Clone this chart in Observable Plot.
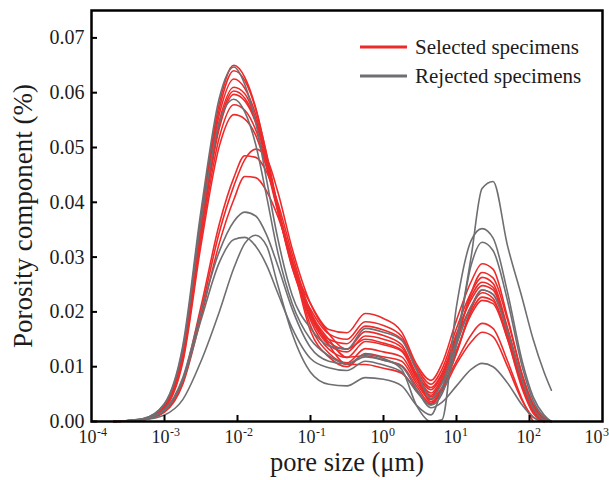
<!DOCTYPE html>
<html><head><meta charset="utf-8">
<script src="https://cdn.jsdelivr.net/npm/d3@7"></script>
<script src="https://cdn.jsdelivr.net/npm/@observablehq/plot@0.6"></script>
<style>
body{margin:0;background:#fff;}
svg text{font-family:"Liberation Serif","Times New Roman",Times,serif !important;font-variant:normal !important;font-variant-numeric:normal !important;}
</style>
</head><body><div id="chart"></div>
<script>
// log10(pore size, µm) sampling positions
const logGrid = [-3.7, -3.3, -3.0, -2.75, -2.5, -2.25, -2.05, -1.9, -1.75, -1.6, -1.45, -1.25, -1.0, -0.75, -0.5, -0.25, 0.0, 0.25, 0.45, 0.65, 0.8, 1.0, 1.2, 1.35, 1.5, 1.7, 1.9, 2.05, 2.2, 2.3];

// Selected specimens (red)
const selected1  = [0, .0004, .0030, .0130, .0375, .0580, .0650, .0628, .0572, .0485, .0390, .0280, .0205, .0160, .0150, .0182, .0175, .0155, .0100, .0068, .0095, .0170, .0235, .0263, .0252, .0170, .0075, .0025, 0, null];
const selected2  = [0, .0004, .0029, .0125, .0365, .0570, .0640, .0622, .0570, .0488, .0395, .0290, .0215, .0168, .0162, .0197, .0188, .0163, .0105, .0075, .0105, .0185, .0255, .0288, .0278, .0190, .0085, .0030, .0005, 0];
const selected3  = [0, .0004, .0028, .0122, .0360, .0560, .0625, .0608, .0560, .0482, .0392, .0285, .0195, .0150, .0142, .0174, .0167, .0150, .0095, .0062, .0088, .0160, .0222, .0248, .0240, .0165, .0075, .0028, .0005, 0];
const selected4  = [0, .0004, .0027, .0120, .0352, .0548, .0610, .0598, .0552, .0478, .0390, .0290, .0200, .0145, .0132, .0164, .0157, .0140, .0088, .0058, .0085, .0155, .0228, .0254, .0245, .0168, .0070, .0020, 0, null];
const selected5  = [0, .0003, .0026, .0118, .0348, .0540, .0603, .0590, .0548, .0475, .0388, .0282, .0190, .0140, .0127, .0156, .0150, .0135, .0085, .0052, .0080, .0150, .0210, .0235, .0225, .0150, .0060, .0015, 0, null];
const selected6  = [0, .0003, .0026, .0116, .0342, .0535, .0597, .0585, .0545, .0472, .0385, .0288, .0185, .0132, .0117, .0146, .0140, .0128, .0080, .0048, .0075, .0145, .0235, .0272, .0262, .0185, .0085, .0032, .0008, 0];
const selected7  = [0, .0003, .0025, .0112, .0332, .0518, .0578, .0568, .0532, .0468, .0390, .0295, .0175, .0125, .0107, .0133, .0127, .0118, .0075, .0045, .0070, .0130, .0195, .0221, .0215, .0150, .0065, .0020, 0, null];
const selected8  = [0, .0003, .0024, .0108, .0322, .0502, .0560, .0552, .0522, .0462, .0385, .0292, .0165, .0118, .0100, .0124, .0118, .0110, .0070, .0040, .0062, .0110, .0158, .0179, .0170, .0110, .0040, 0, null, null];
const selected9  = [0, .0003, .0018, .0070, .0200, .0345, .0430, .0478, .0497, .0480, .0420, .0315, .0215, .0160, .0132, .0150, .0143, .0130, .0082, .0036, .0060, .0125, .0205, .0240, .0232, .0162, .0070, .0022, 0, null];
const selected10 = [0, .0003, .0019, .0075, .0210, .0360, .0445, .0485, .0482, .0455, .0400, .0305, .0200, .0150, .0117, .0120, .0112, .0102, .0065, .0033, .0055, .0105, .0145, .0163, .0155, .0100, .0038, .0008, 0, null];
const selected11 = [0, .0003, .0017, .0068, .0190, .0325, .0405, .0447, .0445, .0420, .0375, .0295, .0195, .0140, .0104, .0104, .0097, .0088, .0058, .0030, .0058, .0125, .0200, .0227, .0220, .0155, .0068, .0022, .0003, 0];

// Rejected specimens (grey)
const rejected1 = [0, .0005, .0033, .0138, .0385, .0590, .0647, .0615, .0545, .0440, .0335, .0230, .0170, .0138, .0132, .0170, .0163, .0148, .0095, .0042, .0070, .0140, .0210, .0240, .0232, .0165, .0075, .0025, .0003, 0];
const rejected2 = [0, .0005, .0032, .0132, .0365, .0545, .0588, .0565, .0505, .0410, .0310, .0215, .0150, .0120, .0105, .0118, .0112, .0100, .0060, .0025, .0035, .0065, .0095, .0106, .0100, .0070, .0030, .0008, 0, null];
const rejected3 = [0, .0004, .0022, .0080, .0200, .0310, .0365, .0382, .0375, .0340, .0285, .0205, .0135, .0110, .0105, .0122, .0115, .0095, .0030, 0, .0003, .0210, .0330, .0352, .0335, .0235, .0110, .0045, .0012, 0];
const rejected4 = [0, .0004, .0020, .0075, .0185, .0290, .0332, .0336, .0320, .0285, .0235, .0170, .0115, .0098, .0093, .0110, .0103, .0090, .0055, .0030, .0050, .0140, .0285, .0327, .0312, .0220, .0100, .0038, .0008, 0];
const rejected5 = [0, .0003, .0012, .0040, .0110, .0200, .0280, .0325, .0340, .0320, .0250, .0160, .0090, .0068, .0065, .0080, .0077, .0065, .0030, .0012, .0060, .0150, .0300, .0425, .0438, .0320, .0225, .0150, .0090, .0057];

const selectedCurves = [selected1, selected2, selected3, selected4, selected5, selected6, selected7, selected8, selected9, selected10, selected11];
const rejectedCurves = [rejected1, rejected2, rejected3, rejected4, rejected5];

const yTicks = [0, 0.01, 0.02, 0.03, 0.04, 0.05, 0.06, 0.07];
const xTickExponents = [-4, -3, -2, -1, 0, 1, 2, 3];
const xInnerExponents = [-3, -2, -1, 0, 1, 2];
const legendLabels = ["Selected specimens", "Rejected specimens"];
const xTitle = "pore size (\u03bcm)";
const yTitle = "Porosity component (%)";

const RED = "#ee2b2b", GREY = "#6f6f73", INK = "#1c1c1c";
const FONT = "Liberation Serif, Times New Roman, Times, serif";

function toRows(curves, group) {
  const rows = [];
  curves.forEach((ys, k) => ys.forEach((v, i) => {
    if (v != null) rows.push({x: Math.pow(10, logGrid[i]), y: v, id: group + k});
  }));
  return rows;
}
const selRows = toRows(selectedCurves, "s");
const rejRows = toRows(rejectedCurves, "r");
const xInnerValues = xInnerExponents.map(e => Math.pow(10, e));
const mainExp = xTickExponents.filter(e => e < 3);
const lastExp = xTickExponents.filter(e => e >= 3);

const common = {fontFamily: FONT, fontVariant: "normal", fill: INK};

const chart = Plot.plot({
  width: 609, height: 480,
  marginLeft: 91, marginRight: 7, marginTop: 10, marginBottom: 59,
  style: {fontFamily: FONT, background: "white", color: INK},
  x: {type: "log", domain: [1e-4, 1e3]},
  y: {domain: [0, 0.075]},
  marks: [
    Plot.line(selRows, {x: "x", y: "y", z: "id", stroke: RED, strokeWidth: 1.6, curve: "monotone-x"}),
    Plot.line(rejRows, {x: "x", y: "y", z: "id", stroke: GREY, strokeWidth: 1.6, curve: "monotone-x"}),
    Plot.frame({stroke: "black", strokeWidth: 2.5}),
    Plot.axisY({ticks: yTicks, tickSize: 0, tickPadding: 7, tickFormat: d => d.toFixed(2), fontSize: 20, label: null, ...common}),
    Plot.axisY({ticks: yTicks, tickSize: 6, dx: 6, tickFormat: () => "", label: null, strokeWidth: 2, stroke: "black"}),
    Plot.axisX({ticks: xInnerValues, tickSize: 6, dy: -6, tickFormat: () => "", label: null, strokeWidth: 2, stroke: "black"}),
    Plot.text(mainExp, {x: e => Math.pow(10, e), text: () => "10", frameAnchor: "bottom", textAnchor: "end", lineAnchor: "bottom", dx: 5, dy: 21.5, fontSize: 18, ...common}),
    Plot.text(mainExp, {x: e => Math.pow(10, e), text: e => String(e), frameAnchor: "bottom", textAnchor: "start", lineAnchor: "bottom", dx: 5.5, dy: 14, fontSize: 12, ...common}),
    Plot.text(lastExp, {x: e => Math.pow(10, e), text: () => "10", frameAnchor: "bottom", textAnchor: "end", lineAnchor: "bottom", dx: 0, dy: 21.5, fontSize: 18, ...common}),
    Plot.text(lastExp, {x: e => Math.pow(10, e), text: e => String(e), frameAnchor: "bottom", textAnchor: "start", lineAnchor: "bottom", dx: 0.5, dy: 14, fontSize: 12, ...common}),
    Plot.text([xTitle], {text: d => d, frameAnchor: "bottom", textAnchor: "middle", lineAnchor: "bottom", dy: 49, fontSize: 26.5, ...common}),
    Plot.text([yTitle], {text: d => d, frameAnchor: "left", textAnchor: "middle", rotate: -90, dx: -68, fontSize: 27, ...common})
  ]
});

const svg = d3.select(chart);
const leg = svg.append("g").attr("font-family", FONT).attr("font-size", 21).attr("fill", INK).attr("text-anchor", "start");
legendLabels.forEach((lab, i) => {
  const y = 47 + i * 29;
  leg.append("line").attr("x1", 360).attr("x2", 407).attr("y1", y).attr("y2", y)
    .attr("stroke", i ? GREY : RED).attr("stroke-width", 3);
  leg.append("text").attr("x", 415).attr("y", y).attr("dy", "0.32em").attr("text-anchor", "start").text(lab);
});
document.getElementById("chart").appendChild(chart);
</script>
</body></html>
